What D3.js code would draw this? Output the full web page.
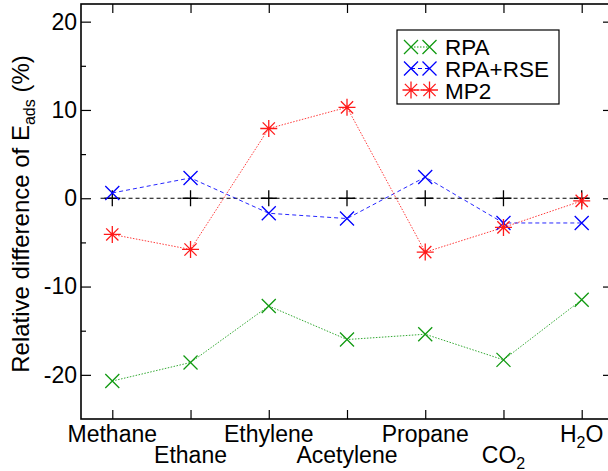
<!DOCTYPE html>
<html><head><meta charset="utf-8">
<script src="https://cdn.jsdelivr.net/npm/d3@7"></script>
<style>
body{margin:0;background:#fff;}
svg{display:block;font-family:"Liberation Sans",Arial,Helvetica,sans-serif;}
</style></head>
<body><svg id="c" width="608" height="471"></svg>
<script>
const categories = ["Methane","Ethane","Ethylene","Acetylene","Propane","CO2","H2O"];
const rpa    = [-20.7,-18.6,-12.2,-16.0,-15.4,-18.3,-11.5];
const rpaRse = [0.6, 2.3, -1.7, -2.3, 2.4, -2.8, -2.8];
const mp2    = [-4.1,-5.8, 7.9, 10.3, -6.1, -3.3, -0.3];
const zero   = [0,0,0,0,0,0,0];
const yMajor = [-20,-10,0,10,20];
const yMinor = [-15,-5,5,15];
const seriesNames = ["RPA","RPA+RSE","MP2"];

const svg = d3.select("#c");
const L=81, R=613, T=4, B=419;
const x = d3.scaleLinear().domain([0.6,7.4]).range([L,R]);
const y = d3.scaleLinear().domain([-25,22]).range([B,T]);
const idx = categories.map((d,i)=>i+1);

// axes
const gl = svg.append("g").attr("transform",`translate(${L},0)`)
  .call(d3.axisLeft(y).tickValues(yMajor).tickSizeInner(-10).tickSizeOuter(0).tickPadding(4));
const glm = svg.append("g").attr("transform",`translate(${L},0)`)
  .call(d3.axisLeft(y).tickValues(yMinor).tickSizeInner(-5).tickSizeOuter(0).tickFormat(""));
const gr = svg.append("g").attr("transform",`translate(${R},0)`)
  .call(d3.axisRight(y).tickValues(yMajor).tickSizeInner(-10).tickSizeOuter(0).tickFormat(""));
const grm = svg.append("g").attr("transform",`translate(${R},0)`)
  .call(d3.axisRight(y).tickValues(yMinor).tickSizeInner(-5).tickSizeOuter(0).tickFormat(""));
const gb = svg.append("g").attr("transform",`translate(0,${B})`)
  .call(d3.axisBottom(x).tickValues(idx).tickSizeInner(-9).tickSizeOuter(0).tickFormat(""));
const gt = svg.append("g").attr("transform",`translate(0,${T})`)
  .call(d3.axisTop(x).tickValues(idx).tickSizeInner(-9).tickSizeOuter(0).tickFormat(""));
[gl,glm,gr,grm,gb,gt].forEach(g=>{
  g.select(".domain").remove();
  g.selectAll(".tick line").attr("stroke","#000").attr("stroke-width",1.2);
});
gl.selectAll(".tick text").attr("font-size",23).attr("fill","#000")
  .attr("font-family","Liberation Sans, Arial, sans-serif");
gl.selectAll(".tick text").text(d=>d<0?"-"+Math.abs(d):d);

// frame
svg.append("rect").attr("x",L).attr("y",T).attr("width",R-L).attr("height",B-T)
  .attr("fill","none").attr("stroke","#000").attr("stroke-width",1.6);

// category labels
const cl = svg.append("g").attr("font-size",23).attr("text-anchor","middle").attr("fill","#000");
categories.forEach((c,i)=>{
  const t = cl.append("text").attr("x",x(i+1)).attr("y", i%2===0?442:463);
  const m = c.match(/^([A-Z]+)(\d)(.*)$/);
  if(m){
    t.append("tspan").text(m[1]);
    t.append("tspan").attr("font-size",16).attr("dy",6).text(m[2]);
    t.append("tspan").attr("dy",-6).text(m[3]);
  } else t.text(c);
});

// y label
const yl = svg.append("text").attr("transform","translate(29,214) rotate(-90)")
  .attr("text-anchor","middle").attr("font-size",24).attr("fill","#000");
yl.append("tspan").text("Relative difference of E");
yl.append("tspan").attr("font-size",16).attr("dy",6).text("ads");
yl.append("tspan").attr("dy",-6).text(" (%)");

// markers
function xMark(g,cx,cy,col,r=7){
  g.append("path").attr("d",`M${cx-r},${cy-r}L${cx+r},${cy+r}M${cx-r},${cy+r}L${cx+r},${cy-r}`)
   .attr("stroke",col).attr("stroke-width",1.3).attr("fill","none");
}
function star(g,cx,cy,col,r=8.5){
  const d=r*0.72;
  g.append("path").attr("d",`M${cx-r},${cy}L${cx+r},${cy}M${cx},${cy-r}L${cx},${cy+r}M${cx-d},${cy-d}L${cx+d},${cy+d}M${cx-d},${cy+d}L${cx+d},${cy-d}`)
   .attr("stroke",col).attr("stroke-width",1.3).attr("fill","none");
}
function plus(g,cx,cy,col,r=8){
  g.append("path").attr("d",`M${cx-r},${cy}L${cx+r},${cy}M${cx},${cy-r}L${cx},${cy+r}`)
   .attr("stroke",col).attr("stroke-width",1.3).attr("fill","none");
}

const line = d3.line().x((d,i)=>x(i+1)).y(d=>y(d));

// zero line
const gz = svg.append("g");
gz.append("line").attr("x1",x(0.85)).attr("x2",x(7.11)).attr("y1",y(0)).attr("y2",y(0))
  .attr("stroke","#000").attr("stroke-width",1).attr("stroke-dasharray","4,3");
zero.forEach((v,i)=>plus(gz,x(i+1),y(v),"#000"));

const series = [
  {name:seriesNames[0], data:rpa, col:"#119a11", dash:"1.5,1.5", mark:xMark},
  {name:seriesNames[1], data:rpaRse, col:"#0000ff", dash:"4,3", mark:xMark},
  {name:seriesNames[2], data:mp2, col:"#ff1a1a", dash:"1.5,1.5", mark:star}
];
series.forEach(s=>{
  const g = svg.append("g");
  g.append("path").datum(s.data).attr("d",line).attr("fill","none")
   .attr("stroke",s.col).attr("stroke-width",1).attr("stroke-dasharray",s.dash).attr("opacity",0.85);
  s.data.forEach((v,i)=>s.mark(g,x(i+1),y(v),s.col));
});

// legend
const lg = svg.append("g");
lg.append("rect").attr("x",397).attr("y",30).attr("width",162).attr("height",74)
  .attr("fill","#fff").attr("stroke","#000").attr("stroke-width",1.2);
const rowY=[47,68.5,90], baseY=[54.5,76.5,98.5];
series.forEach((s,i)=>{
  lg.append("line").attr("x1",411).attr("x2",429.5).attr("y1",rowY[i]).attr("y2",rowY[i])
    .attr("stroke",s.col).attr("stroke-width",1).attr("stroke-dasharray",s.dash);
  s.mark(lg,411,rowY[i],s.col);
  s.mark(lg,429.5,rowY[i],s.col);
  lg.append("text").attr("x",445).attr("y",baseY[i]).attr("font-size",22.5).attr("fill","#000").text(s.name);
});
</script></body></html>
